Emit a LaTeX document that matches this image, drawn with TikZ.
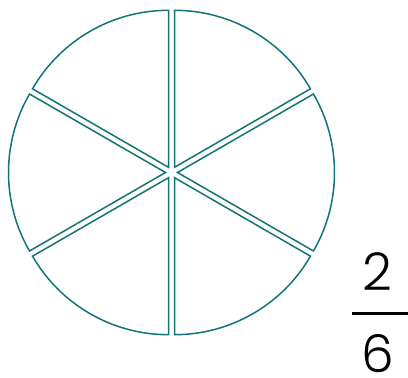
\documentclass[tikz,border=0pt]{standalone}
\usepackage{fontspec}
\setmainfont{Poppins}
\newfontfamily\thinfont{Poppins Light}
\usetikzlibrary{calc}
\definecolor{teal1}{RGB}{18,116,117}
\tikzset{
  sector/.style={draw=teal1, line width=1.5pt, line join=miter},
  digit/.style={inner sep=0pt, font=\thinfont\fontsize{52}{52}\selectfont, text=black}
}
\begin{document}
\begin{tikzpicture}[x=1pt,y=1pt]
\useasboundingbox (0,0) rectangle (408,378);
\coordinate (c) at (171.5,205.5);
\def\R{157}
\foreach \b in {0,60,120,180,240,300}{
  \draw[sector] ($(c)+(\b:6)$) -- ++(\b-30:\R)
     arc[start angle=\b-30, end angle=\b+30, radius=\R] -- cycle;
}
\node[digit] (num) at (377.5,106.5) {2};
\node[digit] (den) at (378,24.5) {6};
\coordinate (barl) at (352,64.7);
\coordinate (barr) at (408,64.7);
\draw[line width=3pt, black] (barl) -- (barr);
\end{tikzpicture}
\end{document}
